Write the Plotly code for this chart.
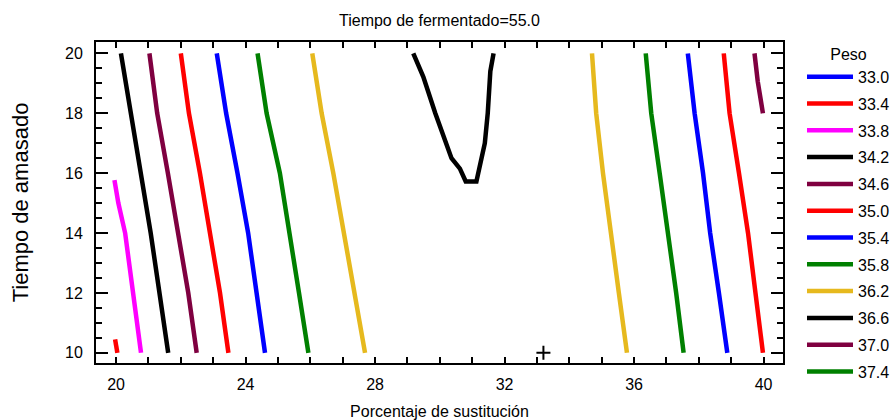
import plotly.graph_objects as go

# Contour levels shown in the legend and their colours
levels = ["33.0", "33.4", "33.8", "34.2", "34.6", "35.0", "35.4", "35.8", "36.2", "36.6", "37.0", "37.4"]
colors = ["#0000FF", "#FF0000", "#FF00FF", "#000000", "#7F0040", "#FF0000",
          "#0000FF", "#008000", "#E6B91E", "#000000", "#7F0040", "#008000"]

# y values shared by the near-straight contour lines
y_std = [20, 18, 16, 14, 12, 10]

# contour line points (x = Porcentaje de sustitución)
x_334 = [19.97, 20.04]
y_334 = [10.45, 10.0]

x_338 = [19.95, 20.07, 20.28, 20.53, 20.77]
y_338 = [15.77, 15.0, 14.0, 12.0, 10.0]

x_342 = [20.15, 20.46, 20.74, 21.07, 21.34, 21.61]
x_346_left = [21.03, 21.27, 21.60, 21.93, 22.23, 22.49]
x_350_left = [22.00, 22.25, 22.59, 22.90, 23.21, 23.47]
x_354_left = [23.11, 23.40, 23.75, 24.08, 24.34, 24.60]
x_358_left = [24.37, 24.65, 25.06, 25.37, 25.65, 25.94]
x_362_left = [26.06, 26.35, 26.71, 27.04, 27.35, 27.69]

x_366 = [29.18, 29.49, 29.86, 30.00, 30.36, 30.62, 30.80, 31.13, 31.23, 31.39, 31.48, 31.56, 31.66]
y_366 = [20.0, 19.22, 18.0, 17.55, 16.5, 16.15, 15.72, 15.72, 16.2, 17.0, 18.0, 19.4, 20.0]

x_362_right = [34.70, 34.83, 35.04, 35.30, 35.53, 35.78]
x_358_right = [36.36, 36.53, 36.79, 37.05, 37.30, 37.53]
x_354_right = [37.66, 37.87, 38.13, 38.35, 38.62, 38.88]
x_350_right = [38.77, 38.95, 39.24, 39.52, 39.75, 39.98]

x_346_right = [39.72, 39.82, 39.98]
y_346_right = [20.0, 19.06, 18.0]

# design point marker
x_point = [33.2]
y_point = [10.0]


def join(*segs):
    xs, ys = [], []
    for sx, sy in segs:
        if xs:
            xs.append(None)
            ys.append(None)
        xs.extend(sx)
        ys.extend(sy)
    return xs, ys


segments = {
    "33.0": [],
    "33.4": [(x_334, y_334)],
    "33.8": [(x_338, y_338)],
    "34.2": [(x_342, y_std)],
    "34.6": [(x_346_left, y_std), (x_346_right, y_346_right)],
    "35.0": [(x_350_left, y_std), (x_350_right, y_std)],
    "35.4": [(x_354_left, y_std), (x_354_right, y_std)],
    "35.8": [(x_358_left, y_std), (x_358_right, y_std)],
    "36.2": [(x_362_left, y_std), (x_362_right, y_std)],
    "36.6": [(x_366, y_366)],
    "37.0": [],
    "37.4": [],
}

fig = go.Figure()
for lev, col in zip(levels, colors):
    segs = segments[lev]
    if segs:
        xs, ys = join(*segs)
    else:
        xs, ys = [None], [None]
    fig.add_trace(go.Scatter(x=xs, y=ys, mode="lines", name=lev,
                             legendgroup=lev,
                             line=dict(color=col, width=4.5), connectgaps=False))

fig.add_trace(go.Scatter(x=x_point, y=y_point, mode="markers", showlegend=False,
                         marker=dict(symbol="cross-thin", size=10,
                                     line=dict(color="black", width=2))))

font_family = "Liberation Sans, Arial, sans-serif"
fig.update_layout(
    width=895, height=420,
    margin=dict(l=96, r=112, t=42, b=57, autoexpand=False),
    paper_bgcolor="white", plot_bgcolor="white",
    font=dict(family=font_family, color="black", size=16),
    title=dict(text="Tiempo de fermentado=55.0", x=0.491, xanchor="center",
               y=1 - 20 / 420, yref="container", yanchor="middle", font=dict(size=16),
               automargin=False),
    legend=dict(x=802 / 895, xref="container", xanchor="left",
                y=1 - 39 / 420, yref="container", yanchor="top",
                font=dict(size=16), tracegroupgap=3, maxheight=400, itemwidth=46,
                title=dict(text="Peso", side="top center", font=dict(size=16)),
                bgcolor="rgba(0,0,0,0)"),
    showlegend=True,
)

fig.update_xaxes(
    range=[19.38, 40.6], tickmode="linear", tick0=20, dtick=4,
    ticks="inside", ticklen=6, tickwidth=2, tickcolor="black",
    minor=dict(dtick=1, tick0=20, ticks="inside", ticklen=6, tickwidth=2, tickcolor="black"),
    showline=True, linewidth=2, linecolor="black", mirror="allticks",
    showgrid=False, zeroline=False, automargin=False,
    tickfont=dict(size=16), ticklabelstandoff=6,
    title=dict(text="Porcentaje de sustitución", font=dict(size=16), standoff=14),
)
fig.update_yaxes(
    range=[9.66, 20.38], tickmode="linear", tick0=10, dtick=2,
    ticks="inside", ticklen=12, tickwidth=2, tickcolor="black",
    minor=dict(dtick=0.5, tick0=10, ticks="inside", ticklen=6, tickwidth=2, tickcolor="black"),
    showline=True, linewidth=2, linecolor="black", mirror="allticks",
    showgrid=False, zeroline=False, automargin=False,
    tickfont=dict(size=16), ticklabelstandoff=8,
    title=dict(text="Tiempo de amasado", font=dict(size=22), standoff=30),
)

fig.write_html("out.html", config={"displayModeBar": False},
               post_script="document.body.style.margin='0';")
